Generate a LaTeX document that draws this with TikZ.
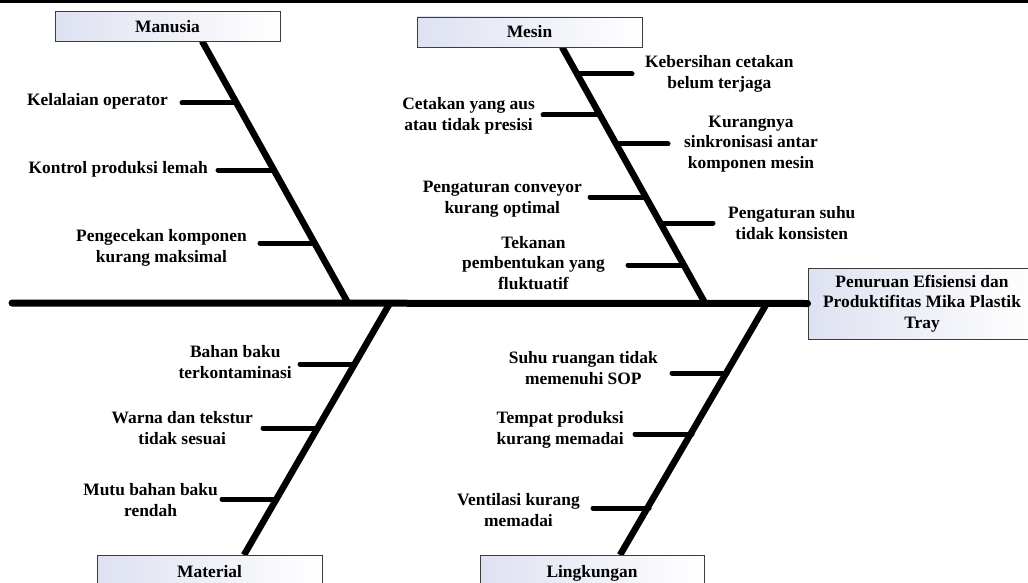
\documentclass[tikz,border=0pt]{standalone}
\usepackage{fontspec}
\setmainfont{Liberation Serif}
\definecolor{catfill}{RGB}{222,225,240}
\definecolor{catedge}{RGB}{60,60,60}
\begin{document}
\begin{tikzpicture}[x=1pt,y=-1pt,
  txt/.style={font=\bfseries\fontsize{17.4}{20.5}\selectfont, align=center, inner sep=0pt},
  catbox/.style={draw=catedge, line width=0.9pt, left color=catfill, right color=white,
    minimum width=225pt, minimum height=30pt, inner sep=0pt,
    font=\bfseries\fontsize{17.4}{20.5}\selectfont},
  lowbox/.style={catbox, minimum height=36pt, text height=12pt, text depth=4pt},
  spineline/.style={line width=7pt, line cap=round},
  boneline/.style={line width=6.5pt},
  ribline/.style={line width=5pt, line cap=round},
  frameline/.style={line width=2.6pt},
]
\useasboundingbox (0,0) rectangle (1028,583);
\clip (0,0) rectangle (1028,583);

% top frame line
\coordinate (fl) at (0,1.3);
\coordinate (fr) at (1028,1.3);
\draw[frameline] (fl) -- (fr);

% spine and bone end points
\coordinate (sp0) at (12,303);
\coordinate (mTop) at (202,41);  \coordinate (mBot) at (348,303);
\coordinate (sTop) at (562,47);  \coordinate (sBot) at (705,303);
\coordinate (tTop) at (390,303); \coordinate (tBot) at (244,555);
\coordinate (lTop) at (767,303); \coordinate (lBot) at (620,555);

% rib points (outer end, point on bone)
\coordinate (m1a) at (182,103); \coordinate (m1b) at (237,103);
\coordinate (m2a) at (218,170); \coordinate (m2b) at (274,170);
\coordinate (m3a) at (260,243); \coordinate (m3b) at (314,243);

\coordinate (s1a) at (632,74);  \coordinate (s1b) at (577,74);
\coordinate (s2a) at (543,115); \coordinate (s2b) at (600,115);
\coordinate (s3a) at (668,144); \coordinate (s3b) at (616,144);
\coordinate (s4a) at (590,197); \coordinate (s4b) at (646,197);
\coordinate (s5a) at (713,223); \coordinate (s5b) at (660,223);
\coordinate (s6a) at (628,265); \coordinate (s6b) at (684,265);

\coordinate (t1a) at (300,364); \coordinate (t1b) at (355,364);
\coordinate (t2a) at (263,428); \coordinate (t2b) at (318,428);
\coordinate (t3a) at (222,499); \coordinate (t3b) at (277,499);

\coordinate (l1a) at (672,373); \coordinate (l1b) at (727,373);
\coordinate (l2a) at (635,434); \coordinate (l2b) at (692,434);
\coordinate (l3a) at (593,508); \coordinate (l3b) at (649,508);

% bones
\draw[boneline] (mTop) -- (mBot);
\draw[boneline] (sTop) -- (sBot);
\draw[boneline] (tTop) -- (tBot);
\draw[boneline] (lTop) -- (lBot);

% ribs
\foreach \r in {m1,m2,m3,s1,s2,s3,s4,s5,s6,t1,t2,t3,l1,l2,l3}
  \draw[ribline] (\r a) -- (\r b);

% boxes
\node[catbox] (catM) at (167.5,26.5) {Manusia};
\node[catbox] (catS) at (529.5,32) {Mesin};
\node[lowbox] (catT) at (209.5,573) {Material};
\node[lowbox, minimum width=224pt] (catL) at (592,573) {Lingkungan};
\node[catbox, minimum width=228pt, minimum height=71pt, align=center] (eff) at (922,303.5)
  {Penuruan Efisiensi dan\\Produktifitas Mika Plastik\\Tray};

% spine
\draw[spineline] (sp0) -- (eff.west);

% cause labels
\node[txt, anchor=east] (lm1) at (168,101) {Kelalaian operator};
\node[txt, anchor=east] (lm2) at (208,169) {Kontrol produksi lemah};
\node[txt, anchor=east] (lm3) at (247,248) {Pengecekan komponen\\kurang maksimal};

\node[txt, anchor=west] (ls1) at (645,74) {Kebersihan cetakan\\belum terjaga};
\node[txt, anchor=east] (ls2) at (535,116) {Cetakan yang aus\\atau tidak presisi};
\node[txt, anchor=west] (ls3) at (684,144) {Kurangnya\\sinkronisasi antar\\komponen mesin};
\node[txt, anchor=east] (ls4) at (582,199) {Pengaturan conveyor\\kurang optimal};
\node[txt, anchor=west] (ls5) at (728,223) {Pengaturan suhu\\tidak konsisten};
\node[txt, anchor=east] (ls6) at (605,263) {Tekanan\\pembentukan yang\\fluktuatif};

\node[txt, anchor=east] (lt1) at (292,362) {Bahan baku\\terkontaminasi};
\node[txt, anchor=east] (lt2) at (253,428) {Warna dan tekstur\\tidak sesuai};
\node[txt, anchor=east] (lt3) at (218,500) {Mutu bahan baku\\rendah};

\node[txt, anchor=east] (ll1) at (658,368) {Suhu ruangan tidak\\memenuhi SOP};
\node[txt, anchor=east] (ll2) at (624,430) {Tempat produksi\\kurang memadai};
\node[txt, anchor=east] (ll3) at (580,510) {Ventilasi kurang\\memadai};
\end{tikzpicture}
\end{document}
